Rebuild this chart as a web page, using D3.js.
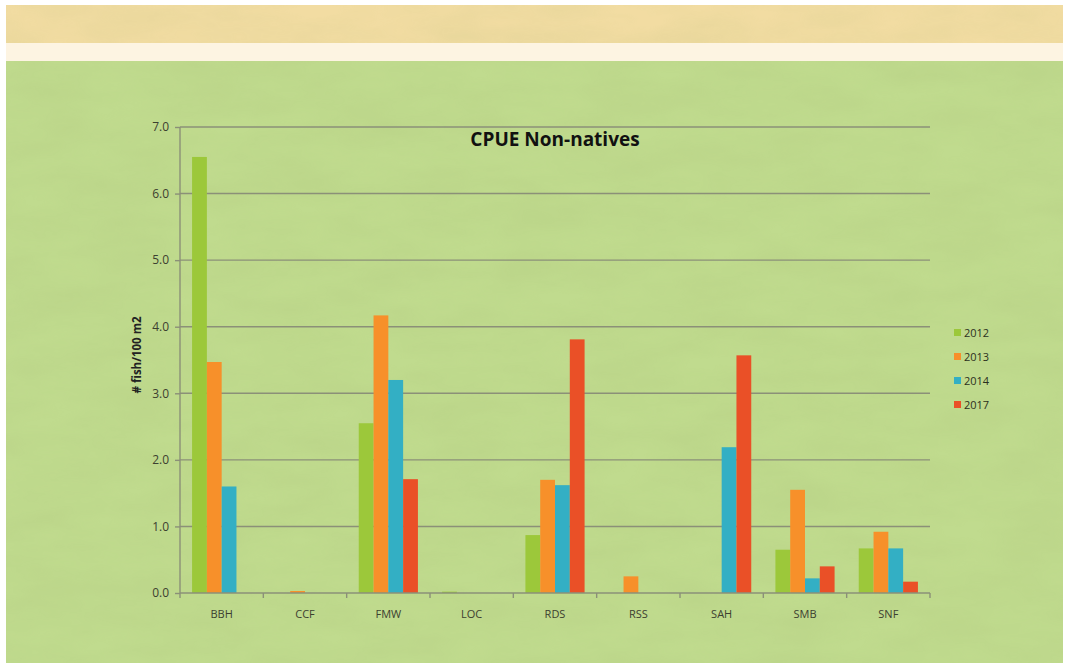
<!DOCTYPE html>
<html>
<head>
<meta charset="utf-8">
<script src="https://cdn.jsdelivr.net/npm/d3@7"></script>
<style>
  body { margin: 0; background: #fff; }
  svg { display: block; }
</style>
</head>
<body>
<svg id="chart" width="1071" height="666"></svg>
<script>
// sites and years
const sites = ['BBH', 'CCF', 'FMW', 'LOC', 'RDS', 'RSS', 'SAH', 'SMB', 'SNF'];
const years = ['2012', '2013', '2014', '2017'];

// CPUE per site, one array per year
const cpue2012 = [6.55, 0, 2.55, 0.02, 0.87, 0, 0, 0.65, 0.67];
const cpue2013 = [3.47, 0.03, 4.17, 0, 1.70, 0.25, 0, 1.55, 0.92];
const cpue2014 = [1.60, 0, 3.20, 0, 1.62, 0, 2.19, 0.22, 0.67];
const cpue2017 = [0, 0, 1.71, 0, 3.81, 0, 3.57, 0.40, 0.17];

const yTicks = [0, 1, 2, 3, 4, 5, 6, 7];
const colors = ['#9cc83a', '#f7902a', '#33afc4', '#ea5027'];

const seriesByYear = [cpue2012, cpue2013, cpue2014, cpue2017];
const rows = sites.map((s, i) => ({
  site: s,
  values: years.map((y, j) => ({year: y, value: seriesByYear[j][i]}))
}));

const svg = d3.select('#chart');
const W = 1071, H = 666;

// paper background with a faint texture
const defs = svg.append('defs');
const f = defs.append('filter').attr('id', 'paper')
  .attr('x', 0).attr('y', 0).attr('width', '100%').attr('height', '100%');
f.append('feTurbulence')
  .attr('type', 'fractalNoise')
  .attr('baseFrequency', '0.012 0.035')
  .attr('numOctaves', 4)
  .attr('seed', 7)
  .attr('result', 'noise');
f.append('feColorMatrix')
  .attr('in', 'noise')
  .attr('type', 'matrix')
  .attr('values', '0 0 0 0 0.35  0 0 0 0 0.45  0 0 0 0 0.15  0 0 0 0.35 -0.08')
  .attr('result', 'tint');
f.append('feComposite').attr('in', 'tint').attr('in2', 'SourceGraphic').attr('operator', 'in');

svg.append('rect').attr('x', 6).attr('y', 5).attr('width', 1057).attr('height', 38).attr('fill', '#f2dca2');
svg.append('rect').attr('x', 6).attr('y', 43).attr('width', 1057).attr('height', 18).attr('fill', '#fdf4e2');
svg.append('rect').attr('x', 6).attr('y', 61).attr('width', 1057).attr('height', 602).attr('fill', '#c0db8e');
svg.append('rect').attr('x', 6).attr('y', 5).attr('width', 1057).attr('height', 38)
  .attr('fill', '#000').attr('filter', 'url(#paper)').attr('opacity', 0.45);
svg.append('rect').attr('x', 6).attr('y', 61).attr('width', 1057).attr('height', 602)
  .attr('fill', '#000').attr('filter', 'url(#paper)').attr('opacity', 0.55);

const margin = {left: 180, right: 141, top: 127, bottom: 73};
const plotW = W - margin.left - margin.right;
const plotH = H - margin.top - margin.bottom;

const g = svg.append('g').attr('transform', `translate(${margin.left},${margin.top})`);

const x0 = d3.scaleBand().domain(sites).range([0, plotW]).paddingInner(0.29).paddingOuter(0.145);
const x1 = d3.scaleBand().domain(years).range([0, x0.bandwidth()]);
const y = d3.scaleLinear().domain([0, 7]).range([plotH, 0]);
const color = d3.scaleOrdinal().domain(years).range(colors);

// grid lines
g.append('g')
  .selectAll('line')
  .data(yTicks.filter(t => t > 0))
  .join('line')
  .attr('x1', 0).attr('x2', plotW)
  .attr('y1', d => y(d)).attr('y2', d => y(d))
  .attr('stroke', '#8b9078').attr('stroke-width', 1.4);

// bars
g.append('g')
  .selectAll('g')
  .data(rows)
  .join('g')
  .attr('transform', d => `translate(${x0(d.site)},0)`)
  .selectAll('rect')
  .data(d => d.values)
  .join('rect')
  .attr('x', d => x1(d.year))
  .attr('width', x1.bandwidth())
  .attr('y', d => y(d.value))
  .attr('height', d => plotH - y(d.value))
  .attr('fill', d => color(d.year));

// y axis
const yAxis = d3.axisLeft(y).tickValues(yTicks).tickFormat(d3.format('.1f')).tickSize(5).tickPadding(6);
g.append('g')
  .attr('class', 'y-axis')
  .call(yAxis)
  .call(a => a.select('.domain').attr('stroke', '#8b9078').attr('stroke-width', 1.4).attr('d', `M0,0V${plotH}`))
  .call(a => a.selectAll('.tick line').attr('stroke', '#8b9078').attr('stroke-width', 1.4))
  .call(a => a.selectAll('text')
    .attr('fill', '#3c4030')
    .style('font-family', '"Open Sans", sans-serif')
    .style('font-size', '12px'));

// x axis: ticks between categories
const xAxisG = g.append('g').attr('transform', `translate(0,${plotH})`);
xAxisG.append('line')
  .attr('x1', 0).attr('x2', plotW)
  .attr('stroke', '#8b9078').attr('stroke-width', 1.4);
xAxisG.selectAll('line.sep')
  .data(d3.range(sites.length + 1))
  .join('line')
  .attr('class', 'sep')
  .attr('x1', i => i * plotW / sites.length).attr('x2', i => i * plotW / sites.length)
  .attr('y1', 0).attr('y2', 5)
  .attr('stroke', '#8b9078').attr('stroke-width', 1.4);
xAxisG.selectAll('text')
  .data(sites)
  .join('text')
  .attr('x', d => x0(d) + x0.bandwidth() / 2)
  .attr('y', 25)
  .attr('text-anchor', 'middle')
  .attr('fill', '#3c4030')
  .style('font-family', '"Open Sans", sans-serif')
  .style('font-size', '11px')
  .text(d => d);

// title
svg.append('text')
  .attr('x', 555).attr('y', 146)
  .attr('text-anchor', 'middle')
  .attr('fill', '#111')
  .style('font-family', '"Open Sans", sans-serif')
  .style('font-size', '19px')
  .style('font-weight', 'bold')
  .text('CPUE Non-natives');

// y title
svg.append('text')
  .attr('transform', `translate(141,${margin.top + plotH / 2 - 5}) rotate(-90)`)
  .attr('text-anchor', 'middle')
  .attr('fill', '#222')
  .style('font-family', '"Open Sans", sans-serif')
  .style('font-size', '11.5px')
  .style('font-weight', 'bold')
  .text('# fish/100 m2');

// legend
const legend = svg.append('g').attr('transform', 'translate(954,333)');
const li = legend.selectAll('g')
  .data(years)
  .join('g')
  .attr('transform', (d, i) => `translate(0,${i * 24})`);
li.append('rect')
  .attr('x', 0).attr('y', -4)
  .attr('width', 7).attr('height', 7)
  .attr('fill', d => color(d));
li.append('text')
  .attr('x', 10).attr('y', 4)
  .attr('fill', '#2c3020')
  .style('font-family', '"Open Sans", sans-serif')
  .style('font-size', '11px')
  .text(d => d);
</script>
</body>
</html>
